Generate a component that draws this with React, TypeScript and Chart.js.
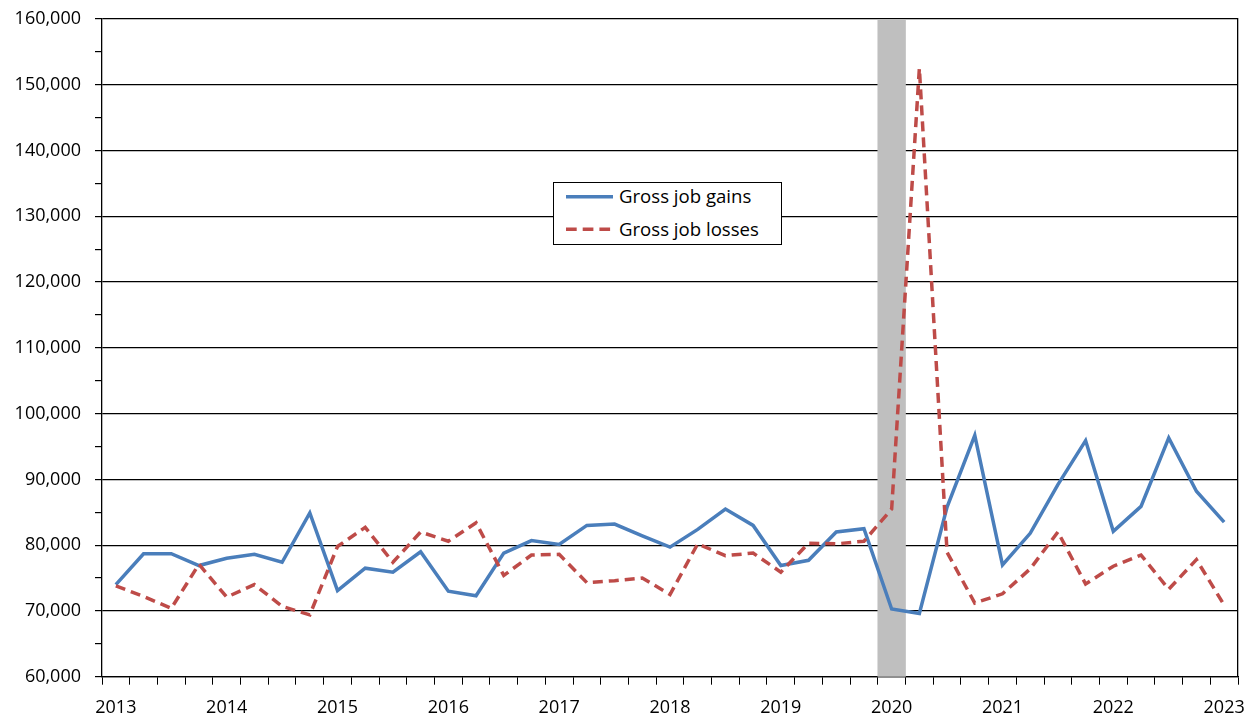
import React, { useEffect, useRef } from "react";
import { Chart, registerables } from "chart.js";

Chart.register(...registerables);

const years = ["2013", "2014", "2015", "2016", "2017", "2018", "2019", "2020", "2021", "2022", "2023"];
const quarters = ["Q1", "Q2", "Q3", "Q4"];
const categories: string[] = [];
years.forEach((y) => quarters.forEach((q) => { if (!(y === "2023" && q !== "Q1")) categories.push(y + " " + q); }));

const grossJobGains = [
  74000, 78700, 78700, 76900, 78000, 78600, 77400, 84900,
  73100, 76500, 75900, 79000, 73000, 72300, 78800, 80700,
  80100, 83000, 83200, 81400, 79700, 82400, 85500, 83000,
  76900, 77700, 82000, 82500, 70300, 69600, 85800, 96700,
  77000, 81800, 89200, 95900, 82100, 85900, 96300, 88200,
  83500,
];

const grossJobLosses = [
  73800, 72200, 70400, 77100, 72100, 74000, 70700, 69400,
  79800, 82700, 77400, 82000, 80600, 83400, 75400, 78500,
  78600, 74300, 74600, 75000, 72500, 80200, 78400, 78800,
  75900, 80300, 80200, 80600, 85500, 152500, 78900, 71200,
  72600, 76400, 82000, 74100, 76800, 78500, 73300, 77800,
  70900,
];

const recessionQuarters = ["2020 Q1"];
const yMin = 60000;
const yMax = 160000;

const FONT = "'Open Sans', sans-serif";

export default function App() {
  const canvasRef = useRef<HTMLCanvasElement | null>(null);

  useEffect(() => {
    const canvas = canvasRef.current;
    if (!canvas) return;
    const recession = categories.map((c) => (recessionQuarters.includes(c) ? yMax : null));
    const chart = new Chart(canvas, {
      type: "line",
      data: {
        labels: categories,
        datasets: [
          {
            type: "line",
            label: "Gross job losses",
            data: grossJobLosses,
            borderColor: "#BE4B48",
            borderWidth: 3.5,
            borderDash: [10, 6],
            pointRadius: 0,
            fill: false,
            tension: 0,
            order: 1,
          },
          {
            type: "line",
            label: "Gross job gains",
            data: grossJobGains,
            borderColor: "#4A7EBB",
            borderWidth: 3.5,
            pointRadius: 0,
            fill: false,
            tension: 0,
            order: 2,
          },
          {
            type: "bar",
            label: "Recession",
            data: recession as any,
            backgroundColor: "#BFBFBF",
            barPercentage: 1,
            categoryPercentage: 1,
            order: 3,
          } as any,
        ],
      },
      options: {
        animation: false,
        responsive: true,
        maintainAspectRatio: false,
        layout: { padding: { left: 0, right: 14, top: 19, bottom: 0 } },
        plugins: { legend: { display: false }, tooltip: { enabled: false } },
        scales: {
          x: {
            type: "category",
            offset: true,
            grid: {
              offset: true,
              drawOnChartArea: false,
              tickLength: 8,
              tickColor: "#000",
            },
            border: { color: "#000", width: 1.3 },
            ticks: {
              autoSkip: false,
              maxRotation: 0,
              minRotation: 0,
              padding: 12,
              color: "#000",
              font: { family: FONT, size: 18 },
              callback: (_v: any, i: number) => (i % 4 === 0 ? years[i / 4] : ""),
            },
            afterFit: (s: any) => {
              s.height = 38.3;
              s.paddingLeft = 0;
              s.paddingRight = 0;
            },
          },
          y: {
            type: "linear",
            position: "left",
            min: yMin,
            max: yMax,
            grid: {
              color: (ctx: any) => (ctx.tick && ctx.tick.value % 10000 === 0 ? "#000" : "rgba(0,0,0,0)"),
              tickColor: "#000",
              tickLength: 7,
              lineWidth: 1.2,
            },
            border: { color: "#000", width: 1.3 },
            ticks: {
              stepSize: 5000,
              autoSkip: false,
              padding: 14,
              color: "#000",
              font: { family: FONT, size: 18 },
              callback: (v: any) => (Number(v) % 10000 === 0 ? Number(v).toLocaleString("en-US") : ""),
            },
            afterFit: (s: any) => {
              s.width = 102;
              s.paddingTop = 0;
              s.paddingBottom = 0;
            },
          },
          y2: {
            type: "linear",
            position: "right",
            min: yMin,
            max: yMax,
            grid: { drawOnChartArea: false, drawTicks: false },
            border: { color: "#000", width: 1.3 },
            ticks: { display: false },
            afterFit: (s: any) => {
              s.width = 0;
              s.paddingTop = 0;
              s.paddingBottom = 0;
            },
          },
        },
      },
    });
    return () => chart.destroy();
  }, []);

  return (
    <div style={{ position: "fixed", left: 0, top: 0, width: 1252, height: 715, background: "#fff" }}>
      <canvas ref={canvasRef} />
      <div
        style={{
          position: "absolute",
          left: 553,
          top: 182,
          width: 229,
          height: 63,
          boxSizing: "border-box",
          border: "1px solid #000",
          background: "#fff",
          fontFamily: FONT,
          fontSize: 18.6,
          color: "#000",
        }}
      >
        <svg style={{ position: "absolute", left: 12, top: 10, overflow: "visible" }} width={47} height={6}>
          <line x1={0} y1={3.7} x2={47} y2={3.7} stroke="#4A7EBB" strokeWidth={3.5} />
        </svg>
        <div style={{ position: "absolute", left: 65, top: 1.2, lineHeight: "24px", whiteSpace: "nowrap" }}>
          Gross job gains
        </div>
        <svg style={{ position: "absolute", left: 12, top: 43, overflow: "visible" }} width={47} height={6}>
          <line x1={0} y1={3.3} x2={47} y2={3.3} stroke="#BE4B48" strokeWidth={3.5} strokeDasharray="10.7 6" />
        </svg>
        <div style={{ position: "absolute", left: 65, top: 33.8, lineHeight: "24px", whiteSpace: "nowrap" }}>
          Gross job losses
        </div>
      </div>
    </div>
  );
}
